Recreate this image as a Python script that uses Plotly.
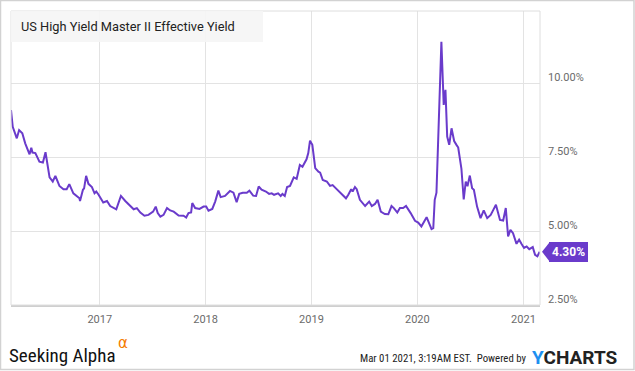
import plotly.graph_objects as go

# ---- data ----
dates = [
    "2016-03-01", "2016-03-07", "2016-03-21", "2016-03-29", "2016-04-09", "2016-04-19",
    "2016-05-04", "2016-05-10", "2016-05-14", "2016-05-24", "2016-06-07", "2016-06-19",
    "2016-06-28", "2016-07-12", "2016-07-23", "2016-08-01", "2016-08-15", "2016-08-29",
    "2016-09-09", "2016-09-18", "2016-10-02", "2016-10-14", "2016-10-23", "2016-10-25",
    "2016-11-04", "2016-11-08", "2016-11-15", "2016-11-23", "2016-12-05", "2016-12-14",
    "2016-12-20", "2016-12-28",
    "2017-01-13", "2017-01-26", "2017-02-06", "2017-02-27", "2017-03-03", "2017-03-15",
    "2017-03-30", "2017-04-14", "2017-04-28", "2017-05-09", "2017-05-21", "2017-06-04",
    "2017-06-18", "2017-07-04", "2017-07-13", "2017-07-20", "2017-07-29", "2017-08-09",
    "2017-08-21", "2017-09-01", "2017-09-13", "2017-09-30", "2017-10-17", "2017-10-26",
    "2017-11-03", "2017-11-12", "2017-11-16", "2017-11-26", "2017-12-11", "2017-12-25",
    "2018-01-03", "2018-01-11", "2018-01-24", "2018-02-03", "2018-02-14", "2018-02-22",
    "2018-03-09", "2018-03-26", "2018-04-07", "2018-04-18", "2018-04-27", "2018-05-09",
    "2018-05-23", "2018-06-01", "2018-06-14", "2018-06-24", "2018-07-03", "2018-07-13",
    "2018-07-28", "2018-08-08", "2018-08-17", "2018-08-25", "2018-09-08", "2018-09-17",
    "2018-09-23", "2018-10-01", "2018-10-09", "2018-10-19", "2018-11-01", "2018-11-11",
    "2018-11-22", "2018-12-01", "2018-12-15", "2018-12-21", "2018-12-27",
    "2019-01-04", "2019-01-14", "2019-01-25", "2019-01-31", "2019-02-09", "2019-02-23",
    "2019-03-06", "2019-03-15", "2019-03-29", "2019-04-16", "2019-04-30", "2019-05-08",
    "2019-05-18", "2019-05-23", "2019-05-31", "2019-06-06", "2019-06-17", "2019-07-05",
    "2019-07-19", "2019-07-28", "2019-08-08", "2019-08-17", "2019-08-28", "2019-09-11",
    "2019-09-23", "2019-10-04", "2019-10-12", "2019-10-24", "2019-11-02", "2019-11-13",
    "2019-11-23", "2019-12-09", "2019-12-24",
    "2020-01-04", "2020-01-15", "2020-02-02", "2020-02-19", "2020-02-25", "2020-03-01",
    "2020-03-07", "2020-03-15", "2020-03-24", "2020-04-01", "2020-04-07", "2020-04-13",
    "2020-04-20", "2020-04-28", "2020-05-07", "2020-05-15", "2020-05-21", "2020-06-01",
    "2020-06-09", "2020-06-16", "2020-06-22", "2020-06-30", "2020-07-08", "2020-07-14",
    "2020-07-25", "2020-08-06", "2020-08-17", "2020-08-29", "2020-09-10", "2020-09-19",
    "2020-09-28", "2020-10-12", "2020-10-23", "2020-11-01", "2020-11-09", "2020-11-17",
    "2020-11-26", "2020-12-08", "2020-12-17", "2020-12-25",
    "2021-01-03", "2021-01-12", "2021-01-21", "2021-02-02", "2021-02-10", "2021-02-18",
    "2021-02-26",
]
yields = [
    9.10, 8.53, 8.14, 8.42, 8.31, 7.97,
    7.60, 7.82, 7.66, 7.64, 7.35, 7.32,
    7.67, 6.82, 6.68, 6.87, 6.53, 6.42,
    6.42, 6.59, 6.28, 6.17, 6.11, 6.02,
    6.40, 6.45, 6.87, 6.60, 6.49, 6.28,
    6.34, 6.23,
    5.97, 6.02, 5.85, 5.74, 5.85, 6.19,
    6.02, 5.89, 5.74, 5.78, 5.63, 5.52,
    5.55, 5.66, 5.83, 5.61, 5.49, 5.55,
    5.78, 5.70, 5.66, 5.53, 5.52, 5.46,
    5.61, 5.63, 5.95, 5.78, 5.75, 5.83,
    5.83, 5.69, 5.75, 6.00, 6.37, 6.15,
    6.19, 6.36, 6.30, 5.98, 6.26, 6.30,
    6.30, 6.37, 6.20, 6.19, 6.51, 6.40,
    6.34, 6.26, 6.28, 6.23, 6.28, 6.19,
    6.26, 6.19, 6.49, 6.53, 6.82, 6.77,
    7.24, 7.18, 7.43, 7.64, 8.06,
    7.92, 7.13, 7.01, 6.98, 6.73, 6.68,
    6.53, 6.56, 6.42, 6.23, 6.11, 6.23,
    6.42, 6.34, 6.49, 6.42, 6.06, 5.85,
    6.00, 5.85, 5.92, 6.06, 5.66, 5.58,
    5.57, 5.85, 5.78, 5.63, 5.78, 5.78,
    5.85, 5.61, 5.35,
    5.29, 5.16, 5.47, 5.07, 5.10, 6.06,
    6.30, 8.42, 11.41, 9.27, 9.78, 8.20,
    7.92, 8.48, 8.05, 7.92, 7.83, 7.12,
    6.07, 6.68, 6.52, 6.88, 6.45, 6.40,
    5.83, 5.44, 5.70, 5.44, 5.55, 5.72,
    5.89, 5.38, 5.36, 5.78, 4.82, 5.04,
    4.93, 4.57, 4.71, 4.57,
    4.43, 4.48, 4.39, 4.46, 4.20, 4.15,
    4.30,
]
series_name = "US High Yield Master II Effective Yield"
year_ticks = ["2017-01-01", "2018-01-01", "2019-01-01", "2020-01-01", "2021-01-01"]
year_labels = ["2017", "2018", "2019", "2020", "2021"]
y_ticks = [2.5, 5.0, 7.5, 10.0]
y_labels = ["2.50%", "5.00%", "7.50%", "10.00%"]
last_label = "4.30%"

PURPLE = "#6a3bcb"
GRID = "#e3e3e3"
FONT = "Roboto, sans-serif"
NARROW = "Liberation Sans Narrow, Roboto Condensed, Roboto, sans-serif"
TICK_FONT = dict(family=FONT, size=11, color="#6b6b6b")

fig = go.Figure()
fig.add_trace(go.Scatter(
    x=dates, y=yields, mode="lines", name=series_name,
    line=dict(color=PURPLE, width=2), hoverinfo="skip",
))

W, H = 635, 371
L, R, T, B = 11, 95, 11, 66
pw = W - L - R
ph = H - T - B

def px_x(p):
    return (p - L) / pw

def px_y(p):
    return 1 - (p - T) / ph

fig.update_layout(
    width=W, height=H,
    margin=dict(l=L, r=R, t=T, b=B, autoexpand=False),
    paper_bgcolor="white", plot_bgcolor="white",
    showlegend=False,
    xaxis=dict(
        type="date", range=["2016-03-01", "2021-02-27"],
        tickvals=year_ticks, ticktext=year_labels,
        showgrid=True, gridcolor=GRID, gridwidth=1,
        showline=True, linecolor="#cfcfcf", linewidth=1.5,
        ticks="", tickfont=TICK_FONT, zeroline=False, automargin=False,
        ticklabelstandoff=3,
    ),
    yaxis=dict(
        range=[2.5, 12.45], side="right",
        tickvals=y_ticks, ticktext=y_labels,
        showgrid=True, gridcolor=GRID, gridwidth=1,
        showline=False, ticks="", tickfont=TICK_FONT, zeroline=False,
        ticklabelshift=-6, ticklabelstandoff=7, automargin=False,
    ),
)

# plot frame (left, top, right)
fig.add_shape(type="rect", xref="paper", yref="paper", x0=0, x1=1, y0=0, y1=1,
              line=dict(color="#dedede", width=1), fillcolor="rgba(0,0,0,0)", layer="above")
# outer border
fig.add_shape(type="rect", xref="paper", yref="paper",
              x0=px_x(0.5), x1=px_x(W - 1), y0=px_y(H - 1.5), y1=px_y(0.5),
              line=dict(color="#d2d2d2", width=1.5), fillcolor="rgba(0,0,0,0)")
# title box
fig.add_shape(type="rect", xref="paper", yref="paper",
              x0=0, x1=px_x(263), y0=px_y(42), y1=1,
              line=dict(width=0), fillcolor="rgba(245,245,245,0.9)", layer="above")
fig.add_annotation(xref="paper", yref="paper", x=px_x(19), y=px_y(27),
                   xanchor="left", yanchor="middle", showarrow=False,
                   text=series_name,
                   font=dict(family=FONT, size=12.8, color="#222"))

# last value tag
last_v = yields[-1]
fig.add_annotation(xref="paper", yref="y", x=px_x(548.5), y=last_v,
                   xanchor="left", yanchor="middle", showarrow=False,
                   text="<b>" + last_label + "</b>", bgcolor=PURPLE,
                   borderpad=3, borderwidth=0,
                   font=dict(family=FONT, size=12, color="white"))
fig.add_shape(type="path", xref="paper", yref="y",
              path="M {a},{v} L {b},{t} L {b},{u} Z".format(
                  a=px_x(542), b=px_x(549), v=last_v, t=last_v + 0.3, u=last_v - 0.3),
              fillcolor=PURPLE, line=dict(width=0))

# footer
fig.add_annotation(xref="paper", yref="paper", x=px_x(7), y=px_y(355),
                   xanchor="left", yanchor="middle", showarrow=False,
                   text="Seeking Alpha",
                   font=dict(family=NARROW, size=19, color="#111"))
fig.add_annotation(xref="paper", yref="paper", x=px_x(116), y=px_y(343),
                   xanchor="left", yanchor="middle", showarrow=False,
                   text="α",
                   font=dict(family="DejaVu Sans, sans-serif", size=15, color="#f57c00"))
fig.add_annotation(xref="paper", yref="paper", x=px_x(529), y=px_y(358),
                   xanchor="right", yanchor="middle", showarrow=False,
                   text="Mar 01 2021, 3:19AM EST.  Powered by",
                   font=dict(family=NARROW, size=10.8, color="#222"))
fig.add_annotation(xref="paper", yref="paper", x=px_x(530), y=px_y(357),
                   xanchor="left", yanchor="middle", showarrow=False,
                   text="<b><span style='color:#1e8ff0'>Y</span>CHARTS</b>",
                   font=dict(family=FONT, size=19, color="#222"))

fig.write_html("out.html", config={"displayModeBar": False},
               post_script="document.body.style.margin='0';document.body.style.overflow='hidden';")
